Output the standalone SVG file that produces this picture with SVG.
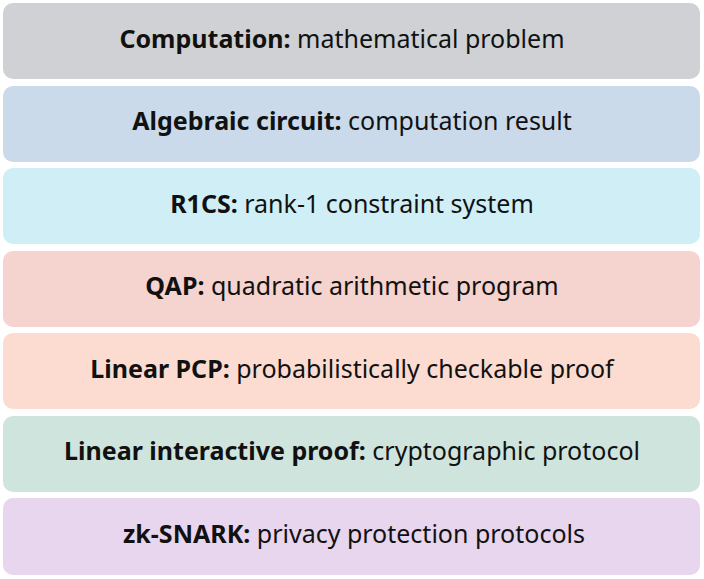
<svg xmlns="http://www.w3.org/2000/svg" width="704" height="579" viewBox="0 0 704 579">
<style>
.box{stroke:none}
.t{font-family:"Noto Sans","Open Sans",sans-serif;font-size:25px;fill:#111;text-anchor:middle}
.b{font-weight:bold}
</style>
<rect width="704" height="579" fill="#ffffff"/>
<g id="n1"><rect class="box" x="3" y="3" width="697" height="76" rx="10" fill="#cfd1d4"/><text class="t" x="342" y="48"><tspan class="b">Computation:</tspan> mathematical problem</text></g>
<g id="n2"><rect class="box" x="3" y="86" width="697" height="76" rx="10" fill="#cadaea"/><text class="t" x="352" y="130"><tspan class="b">Algebraic circuit:</tspan> computation result</text></g>
<g id="n3"><rect class="box" x="3" y="168" width="697" height="76" rx="10" fill="#cfeef5"/><text class="t" x="352" y="213"><tspan class="b">R1CS:</tspan> rank-1 constraint system</text></g>
<g id="n4"><rect class="box" x="3" y="251" width="697" height="76" rx="10" fill="#f5d3cf"/><text class="t" x="352" y="295"><tspan class="b">QAP:</tspan> quadratic arithmetic program</text></g>
<g id="n5"><rect class="box" x="3" y="333" width="697" height="76" rx="10" fill="#fcdcd1"/><text class="t" x="352" y="378"><tspan class="b">Linear PCP:</tspan> probabilistically checkable proof</text></g>
<g id="n6"><rect class="box" x="3" y="416" width="697" height="76" rx="10" fill="#cfe4dd"/><text class="t" x="352" y="460"><tspan class="b">Linear interactive proof:</tspan> cryptographic protocol</text></g>
<g id="n7"><rect class="box" x="3" y="498" width="697" height="77" rx="10" fill="#e8d5ee"/><text class="t" x="354" y="543"><tspan class="b">zk-SNARK:</tspan> privacy protection protocols</text></g>
<g id="connectors"></g>
</svg>
